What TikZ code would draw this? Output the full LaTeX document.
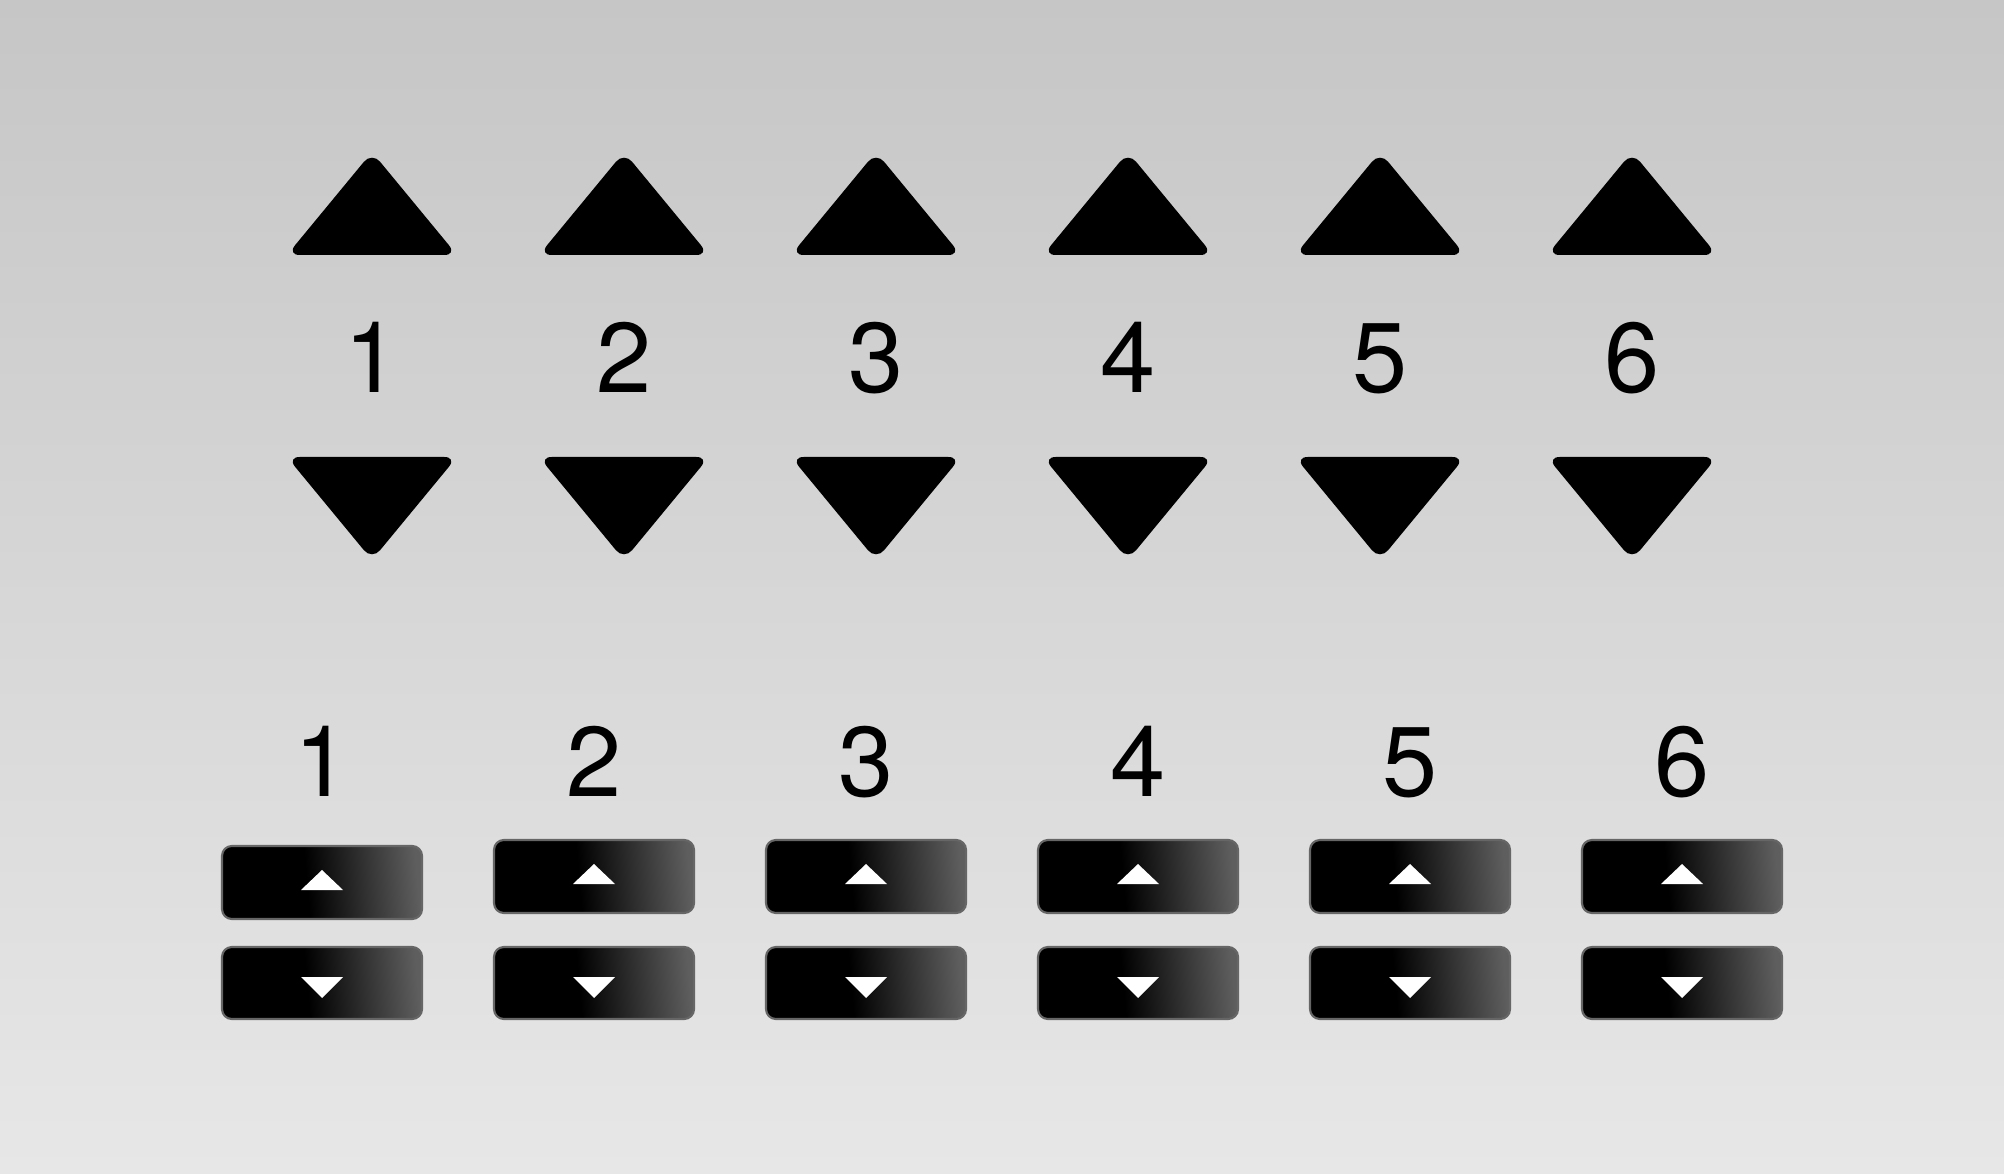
\documentclass[tikz,border=0pt]{standalone}
\usepackage{fontspec}
\setmainfont{TeX Gyre Heros}
\definecolor{bgtop}{HTML}{C6C6C6}
\definecolor{bgbottom}{HTML}{E7E7E7}
\definecolor{btnedge}{HTML}{666666}
\definecolor{btnlight}{HTML}{5E5E5E}
\pgfdeclarehorizontalshading{btnshade}{100bp}{color(0bp)=(black); color(46bp)=(black); color(75bp)=(btnlight); color(100bp)=(btnlight)}

\begin{document}
\begin{tikzpicture}[x=0.01cm,y=-0.01cm,
	digit/.style={font=\fontsize{28.2}{30}\selectfont, anchor=base, inner sep=0pt},
	bigarrow/.style={fill=black, rounded corners=3.6pt},
	keybox/.style={shading=btnshade, shading angle=5, draw=btnedge, line width=0.6pt, rounded corners=2.8pt},
	keymark/.style={fill=white}]
	\useasboundingbox (0,0) rectangle (2004,1174);
	\shade[top color=bgtop, bottom color=bgbottom] (0,0) rectangle (2004,1174);
	% upper row: big arrows and numbers
	\foreach \i in {1,...,6}{
		\pgfmathsetmacro{\cx}{372+252*(\i-1)}
		\fill[bigarrow] (\cx-85,255) -- (\cx,152) -- (\cx+85,255) -- cycle;
		\node[digit] (top\i) at (\cx,393) {\i};
		\fill[bigarrow] (\cx-85,457) -- (\cx,560) -- (\cx+85,457) -- cycle;
	}
	% lower row: numbers and key buttons
	\foreach \i/\dy in {1/6,2/0,3/0,4/0,5/0,6/0}{
		\pgfmathsetmacro{\bx}{322+272*(\i-1)}
		\node[digit] (low\i) at (\bx,797) {\i};
		\shadedraw[keybox] (\bx-100,840+\dy) rectangle (\bx+100,913+\dy);
		\fill[keymark] (\bx-21,884+\dy) -- (\bx,864+\dy) -- (\bx+21,884+\dy) -- cycle;
		\shadedraw[keybox] (\bx-100,947) rectangle (\bx+100,1019);
		\fill[keymark] (\bx-21,977) -- (\bx,998) -- (\bx+21,977) -- cycle;
	}
\end{tikzpicture}
\end{document}
